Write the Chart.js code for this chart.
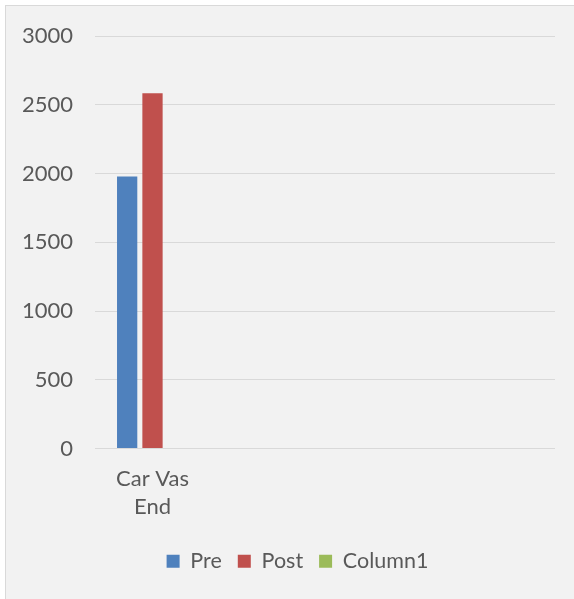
<!DOCTYPE html>
<html>
<head>
<meta charset="utf-8">
<script src="https://cdn.jsdelivr.net/npm/chart.js@4/dist/chart.umd.min.js"></script>
<style>
  html, body { margin: 0; padding: 0; background: #ffffff; }
  #frame {
    position: absolute; left: 5px; top: 5px; width: 569px; height: 594px;
    background: #f2f2f2; border-left: 1px solid #d9d9d9; border-top: 1px solid #d9d9d9;
  }
  #wrap { position: absolute; left: 0; top: 0; width: 569px; height: 594px; }
</style>
</head>
<body>
<div id="frame"><div id="wrap"><canvas id="c"></canvas></div></div>
<script>
const categories = [["Car Vas", "End"], "", "", ""];
const preValues = [1978, null, null, null];
const postValues = [2583, null, null, null];
const column1Values = [null, null, null, null];
const yTicks = [0, 500, 1000, 1500, 2000, 2500, 3000];

const textColor = '#595959';
const font = 'Lato';

const legendShift = {
  id: 'legendShift',
  afterUpdate(chart) {
    if (chart.legend) { chart.legend.left += 10; chart.legend.right += 10; }
  }
};

new Chart(document.getElementById('c'), {
  type: 'bar',
  data: {
    labels: categories,
    datasets: [
      { label: 'Pre', data: preValues, backgroundColor: '#4f81bd' },
      { label: 'Post', data: postValues, backgroundColor: '#c0504d' },
      { label: 'Column1', data: column1Values, backgroundColor: '#9bbb59' }
    ]
  },
  plugins: [legendShift],
  options: {
    responsive: true,
    maintainAspectRatio: false,
    animation: false,
    categoryPercentage: 0.661,
    barPercentage: 0.8,
    layout: { padding: { left: 14, right: 20, top: 30, bottom: 18 } },
    plugins: {
      tooltip: { enabled: false },
      legend: {
        position: 'bottom',
        labels: {
          boxWidth: 13, boxHeight: 13, padding: 16,
          color: textColor,
          font: { family: font, size: 21.5 }
        }
      }
    },
    scales: {
      x: {
        grid: { display: false },
        border: { display: false },
        afterFit: (axis) => { axis.height = axis.height + 5; },
        ticks: {
          color: textColor, padding: 9, maxRotation: 0, autoSkip: false,
          font: { family: font, size: 22, lineHeight: 1.25 }
        }
      },
      y: {
        min: 0, max: 3000,
        afterBuildTicks: (axis) => { axis.ticks = yTicks.map(v => ({ value: v })); },
        afterFit: (axis) => { axis.width = 75; axis.paddingTop = 0; axis.paddingBottom = 0; },
        grid: { color: '#d9d9d9', lineWidth: 1, drawTicks: false },
        border: { display: false },
        ticks: {
          color: textColor, padding: 22,
          callback: (v) => String(v),
          font: { family: font, size: 22, lineHeight: 1 }
        }
      }
    }
  }
});
</script>
</body>
</html>
